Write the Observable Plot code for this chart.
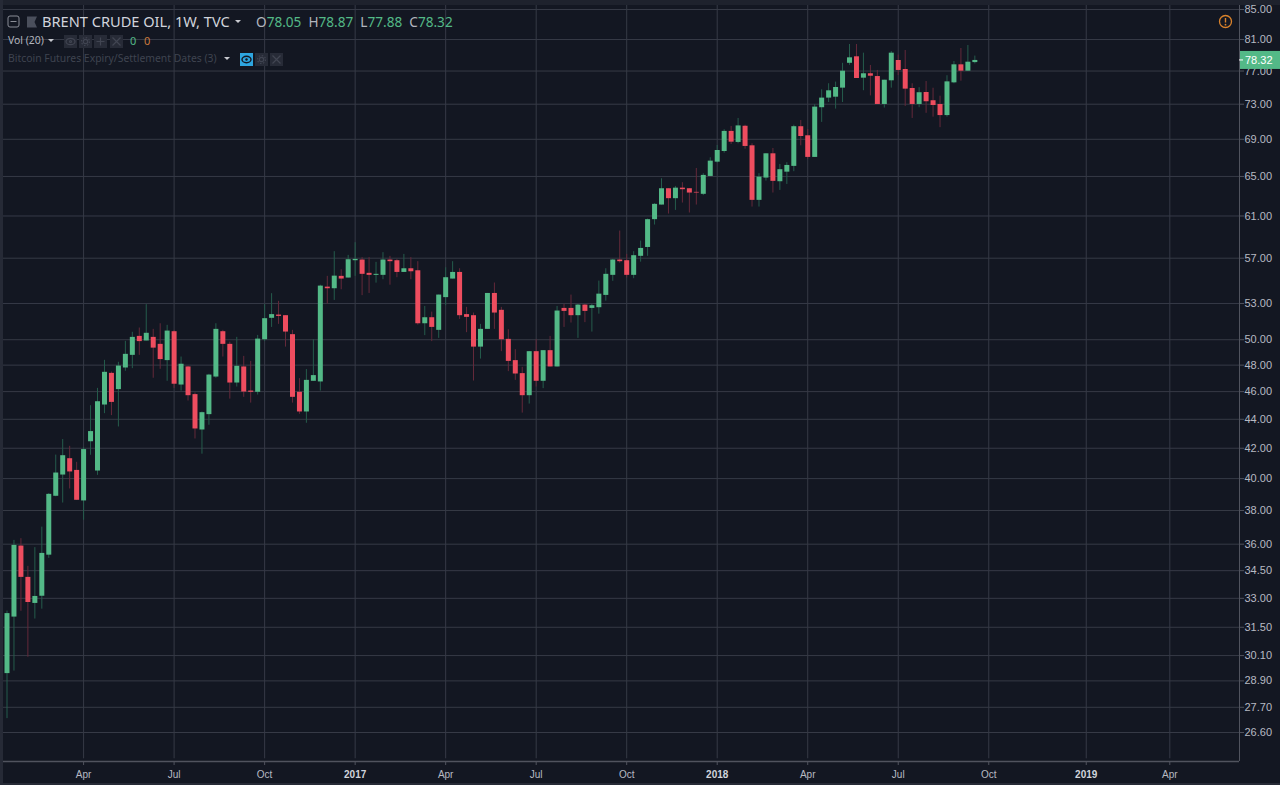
<!DOCTYPE html>
<html>
<head>
<meta charset="utf-8">
<script src="https://cdn.jsdelivr.net/npm/d3@7"></script>
<script src="https://cdn.jsdelivr.net/npm/@observablehq/plot@0.6"></script>
<style>
html,body{margin:0;padding:0;background:#131722;overflow:hidden;}
#wrap{position:relative;width:1280px;height:785px;overflow:hidden;}
#wrap svg{display:block;}
.hd{position:absolute;white-space:pre;font-family:"Noto Sans",sans-serif;line-height:1;}
.caret{position:absolute;width:0;height:0;border-left:3.5px solid transparent;border-right:3.5px solid transparent;border-top:3.5px solid #c8cad0;}
.strip{position:absolute;}
</style>
</head>
<body>
<div id="wrap"></div>
<script>
const firstWeek = new Date(Date.UTC(2016, 0, 18));
const opens = [29.24,32.02,35.89,34.13,32.73,33.11,35.37,38.88,40.23,41.30,
40.53,38.59,42.44,40.49,45.02,47.37,46.15,47.78,48.76,50.27,
49.90,50.19,49.63,48.35,50.65,46.49,47.86,45.78,43.25,44.33,
47.09,50.65,49.63,46.64,47.86,46.04,45.95,50.00,51.75,52.02,
51.97,50.41,45.95,44.52,46.77,46.72,54.41,54.27,55.36,55.21,
56.77,56.83,55.63,55.45,55.45,56.83,56.77,55.71,56.04,55.86,
51.30,51.80,50.76,53.50,55.12,55.71,52.06,51.97,49.41,50.84,
53.86,52.42,50.03,48.35,47.35,45.70,49.05,46.77,49.13,47.86,
52.58,52.58,51.97,52.86,52.58,52.64,53.69,55.45,56.83,56.77,
55.45,57.17,57.99,60.64,62.08,63.73,62.72,63.79,63.73,63.36,
63.16,65.00,66.51,67.66,69.88,68.65,70.46,68.28,62.55,64.83,
67.41,64.45,65.45,66.06,70.41,69.39,67.02,72.59,73.72,73.83,
74.91,77.96,78.78,76.12,76.66,76.32,72.97,75.80,78.31,77.19,
74.87,72.97,74.39,73.41,72.97,71.68,75.55,77.77,76.98,78.05];
const closes = [32.20,35.93,34.13,32.78,33.10,35.47,39.00,40.36,41.50,40.43,
38.63,41.91,43.14,45.26,47.45,45.21,47.93,48.84,50.19,49.85,
50.52,49.33,48.43,50.70,46.55,48.07,45.70,43.32,44.47,47.24,
50.84,49.63,46.64,47.91,45.97,45.95,50.05,51.72,52.06,51.91,
50.62,45.58,44.52,46.84,47.20,54.50,54.27,55.38,55.12,56.86,
56.89,55.54,55.45,55.54,56.83,56.68,55.71,56.04,55.77,51.30,
51.80,51.00,53.72,55.24,55.71,51.97,51.83,49.41,50.84,53.86,
52.19,50.00,48.29,47.32,45.70,49.05,46.77,49.13,47.86,52.36,
52.33,51.97,52.86,52.33,52.81,53.80,55.54,56.83,56.68,55.45,
57.23,57.90,60.64,62.15,63.73,62.72,63.79,63.63,63.29,63.29,
65.11,66.62,67.77,69.88,68.68,70.50,68.21,62.55,64.93,67.41,
64.49,65.71,66.16,70.41,69.31,67.02,72.66,73.72,74.59,74.99,
76.98,78.65,76.08,76.66,76.36,72.97,75.87,79.24,77.07,74.79,
72.97,74.36,73.29,72.85,71.68,75.67,77.77,76.98,78.10,78.32];
const highs = [32.33,36.22,36.32,34.74,35.80,37.00,39.05,41.54,42.59,42.13,
41.06,42.04,44.97,46.24,48.37,47.47,48.22,49.87,50.60,50.95,
52.90,50.84,51.30,51.17,50.76,48.63,47.91,45.90,44.52,47.30,
51.30,50.76,49.81,50.19,48.68,48.29,50.35,52.90,53.84,53.18,
51.97,50.76,46.97,47.66,50.00,54.58,55.36,57.60,55.95,57.26,
58.44,57.05,57.05,56.62,57.51,57.17,56.89,57.35,57.05,56.68,
52.75,52.27,53.72,56.13,56.68,56.04,52.67,52.19,51.25,53.86,
54.77,52.67,50.81,49.21,47.83,49.07,50.00,49.13,50.27,52.75,
52.92,53.72,52.92,52.92,52.92,54.94,56.04,56.89,59.54,57.35,
57.60,58.59,60.70,62.22,64.76,63.73,63.97,64.35,63.73,65.84,
65.29,66.98,68.32,70.07,70.44,71.35,70.58,68.50,65.29,67.41,
67.99,66.27,66.45,70.58,71.11,70.10,72.97,74.71,75.44,75.64,
77.96,80.35,80.35,79.24,77.69,77.07,75.87,79.45,79.00,79.58,
75.44,74.96,75.71,74.90,73.95,76.42,78.19,79.84,80.22,78.87];
const lows = [27.20,29.36,32.32,30.02,31.92,32.43,35.19,38.85,38.46,39.34,
38.63,37.41,41.53,40.21,44.40,44.26,43.46,47.53,47.73,48.76,
49.90,47.00,47.68,46.77,46.24,46.04,45.31,42.63,41.60,43.58,
47.00,48.63,45.45,46.34,45.58,45.16,45.75,49.85,51.00,51.25,
49.41,45.16,44.35,43.72,46.77,46.04,52.95,53.26,54.18,55.21,
55.36,53.67,53.86,54.76,55.06,54.58,55.24,55.71,55.06,51.19,
50.33,49.85,50.11,52.81,55.12,51.66,50.57,46.79,48.47,50.84,
50.84,49.05,47.50,46.84,44.44,45.09,46.34,46.22,47.86,47.86,
51.00,51.36,50.11,51.39,50.62,52.10,53.20,54.92,56.55,55.21,
55.15,56.64,57.17,60.12,62.08,61.19,61.55,62.28,61.29,62.08,
63.03,65.00,66.41,67.48,68.43,68.50,67.91,61.88,61.88,64.52,
63.29,63.56,64.17,65.50,68.28,66.80,67.02,70.90,73.20,72.43,
73.20,77.71,76.08,74.60,73.98,72.97,72.55,74.91,76.45,72.74,
71.35,72.59,71.94,71.50,70.30,71.50,75.44,75.75,76.98,77.88];

const priceTicks = [85,81,77,73,69,65,61,57,53,50,48,46,44,42,40,38,36,34.5,33,31.5,30.1,28.9,27.7,26.6];
const monthTicks = ["2016-04-04","2016-07-04","2016-10-03","2017-04-03","2017-07-03","2017-10-02","2018-04-02","2018-07-02","2018-10-01","2019-04-01"].map(d => new Date(d));
const yearTicks = ["2017-01-02","2018-01-01","2019-01-07"].map(d => new Date(d));
const lastClose = closes[closes.length - 1];

const UP = "#53b987", DOWN = "#ee4d5f", UP_WICK = "#255c4c", DOWN_WICK = "#64293a";
const GRID = "#363a46", AXIS_TEXT = "#b7bac2", AXIS_LINE = "#50535e";

const candles = opens.map((o, i) => ({
  date: d3.utcDay.offset(firstWeek, i * 7), open: o, close: closes[i], high: highs[i], low: lows[i], up: closes[i] >= o
}));

const priceTag = (index, scales) => {
  const y = scales.y(lastClose);
  const g = d3.create("svg:g");
  g.append("rect").attr("x", 1240).attr("y", y - 9).attr("width", 40).attr("height", 18).attr("fill", UP);
  g.append("line").attr("x1", 1239).attr("x2", 1243).attr("y1", y).attr("y2", y).attr("stroke", "#fff");
  g.append("text").attr("x", 1245).attr("y", y + 4).attr("text-anchor", "start").attr("fill", "#fff").attr("font-size", 11).text(lastClose.toFixed(2));
  return g.node();
};

const plot = Plot.plot({
  width: 1280, height: 785,
  marginTop: 5, marginLeft: 3, marginRight: 41, marginBottom: 24,
  style: {background: "#131722", fontFamily: "'Liberation Sans',Arial,sans-serif"},
  x: {type: "utc", domain: [firstWeek, new Date(Date.UTC(2019, 3, 1))], range: [6.5, 1169.3]},
  y: {type: "log", domain: [26.6, 85], range: [732, 9]},
  color: {type: "identity"},
  marks: [
    Plot.gridY(priceTicks, {stroke: GRID, strokeOpacity: 1, strokeWidth: 1}),
    Plot.gridX([...monthTicks, ...yearTicks], {stroke: GRID, strokeOpacity: 1, strokeWidth: 1, y2: 25.5}),
    Plot.ruleX(candles, {x: "date", y1: "low", y2: "high", stroke: d => d.up ? UP_WICK : DOWN_WICK, strokeWidth: 1}),
    Plot.ruleX(candles, {x: "date", y1: "open", y2: "close", stroke: d => d.up ? UP : DOWN, strokeWidth: 5}),
    Plot.axisY({anchor: "right", ticks: priceTicks, tickFormat: d3.format(".2f"), tickSize: 4, tickPadding: 1, label: null, color: AXIS_TEXT, stroke: AXIS_LINE, fontSize: 11}),
    Plot.axisX({ticks: monthTicks, tickFormat: d3.utcFormat("%b"), tickSize: 4, tickPadding: 5, label: null, color: AXIS_TEXT, stroke: AXIS_LINE, fontSize: 10}),
    Plot.axisX({ticks: yearTicks, tickFormat: d3.utcFormat("%Y"), tickSize: 4, tickPadding: 5, label: null, color: "#d1d4dc", stroke: AXIS_LINE, fontSize: 10, fontWeight: "bold"}),
    (index, scales, values, dims) => {
      const g = d3.create("svg:g").attr("stroke", AXIS_LINE);
      const b = dims.height - dims.marginBottom, r = dims.width - dims.marginRight;
      g.append("line").attr("x1", dims.marginLeft).attr("x2", r).attr("y1", b + .5).attr("y2", b + .5).attr("stroke-width", 1.6);
      g.append("line").attr("x1", r + .5).attr("x2", r + .5).attr("y1", dims.marginTop).attr("y2", b);
      return g.node();
    },
    priceTag
  ]
});
const wrap = document.getElementById("wrap");
wrap.appendChild(plot);

const add = (html) => wrap.insertAdjacentHTML("beforeend", html);
// chrome
add(`<div class="strip" style="left:0;top:0;width:1280px;height:5px;background:#1e222d"></div>`);
add(`<div class="strip" style="left:0;top:0;width:3px;height:785px;background:#262a36"></div>`);
add(`<div class="strip" style="left:0;top:783px;width:1280px;height:2px;background:#262a36"></div>`);
// header
add(`<svg style="position:absolute;left:7px;top:15px" width="32" height="14"><rect x="1" y="1" width="11" height="11" rx="2" fill="none" stroke="#8a8d96"/><line x1="3.5" x2="9.5" y1="6.5" y2="6.5" stroke="#8a8d96"/><path d="M20 1.5h10l-2.5 5.5 2.5 5.5h-10z" fill="#4a4f5c"/></svg>`);
add(`<div class="hd" style="left:42px;top:14px;font-size:14.6px;color:#d1d4dc">BRENT CRUDE OIL, 1W, TVC</div>`);
add(`<div class="caret" style="left:235px;top:20px"></div>`);
const g = "#53b987";
add(`<div class="hd" style="left:256px;top:15px;font-size:13.6px;color:#b2b5be">O<span style="color:${g}">78.05</span>  H<span style="color:${g}">78.87</span>  L<span style="color:${g}">77.88</span>  C<span style="color:${g}">78.32</span></div>`);
add(`<div class="hd" style="left:8px;top:35px;font-size:10.4px;color:#b2b5be">Vol (20)</div>`);
add(`<div class="caret" style="left:48px;top:39px"></div>`);
const glyph = (x, y, inner) => add(`<svg style="position:absolute;left:${x}px;top:${y}px" width="13" height="13"><rect width="13" height="13" fill="#272b37"/><g fill="none" stroke="#414552" stroke-width="1.2">${inner}</g></svg>`);
const eye = `<ellipse cx="6.5" cy="6.5" rx="4.5" ry="3.2"/><circle cx="6.5" cy="6.5" r="1"/>`;
const gear = `<circle cx="6.5" cy="6.5" r="2.2"/><circle cx="6.5" cy="6.5" r="4" stroke-dasharray="1.5 1.6"/>`;
const plus = `<path d="M6.5 2.5v8M2.5 6.5h8"/>`;
const cross = `<path d="M2.5 2.5l8 8M10.5 2.5l-8 8"/>`;
glyph(64, 35, eye); glyph(79, 35, gear); glyph(94, 35, plus); glyph(110, 35, cross);
add(`<div class="hd" style="left:130px;top:35px;font-size:11px;color:${g}">0</div>`);
add(`<div class="hd" style="left:144px;top:35px;font-size:11px;color:#c97a3d">0</div>`);
add(`<div class="hd" style="left:8px;top:53px;font-size:10.4px;color:#3f4450">Bitcoin Futures Expiry/Settlement Dates (3)</div>`);
add(`<div class="caret" style="left:224px;top:57px"></div>`);
add(`<svg style="position:absolute;left:240px;top:53px" width="13" height="13"><rect width="13" height="13" fill="#2ea6e0"/><ellipse cx="6.5" cy="6.5" rx="4.5" ry="3.2" fill="none" stroke="#131722" stroke-width="1.4"/><circle cx="6.5" cy="6.5" r="1.2" fill="#131722"/></svg>`);
glyph(255, 53, gear); glyph(270, 53, cross);
// warning icon
add(`<svg style="position:absolute;left:1218px;top:14px" width="15" height="15"><circle cx="7.5" cy="7.5" r="6" fill="none" stroke="#d9822b" stroke-width="1.3"/><line x1="7.5" x2="7.5" y1="4" y2="8.5" stroke="#d9822b" stroke-width="1.4"/><circle cx="7.5" cy="10.7" r=".9" fill="#d9822b"/></svg>`);
</script>
</body>
</html>
